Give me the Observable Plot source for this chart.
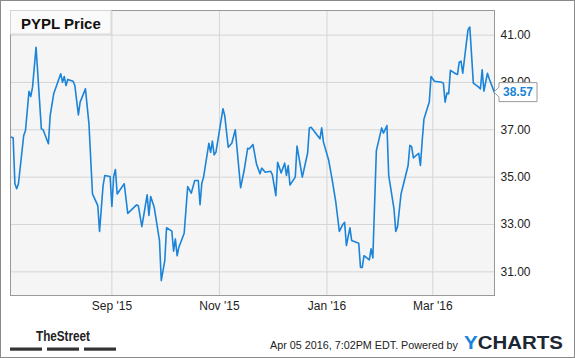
<!DOCTYPE html>
<html>
<head>
<meta charset="utf-8">
<script src="https://cdn.jsdelivr.net/npm/d3@7"></script>
<script src="https://cdn.jsdelivr.net/npm/@observablehq/plot@0.6"></script>
<style>
  html, body { margin: 0; padding: 0; background: #fff; }
  #chart { position: relative; width: 575px; height: 358px; }
  svg { display: block; }
</style>
</head>
<body>
<div id="chart"></div>
<script>
// ---- data ----
const title = "PYPL Price";
const dates = [
  "2015-07-06","2015-07-07","2015-07-08","2015-07-09","2015-07-10","2015-07-13","2015-07-14","2015-07-16","2015-07-17","2015-07-18",
  "2015-07-20","2015-07-23","2015-07-24","2015-07-27","2015-07-28","2015-07-30","2015-08-03","2015-08-04","2015-08-05","2015-08-06",
  "2015-08-07","2015-08-10","2015-08-11","2015-08-13","2015-08-14","2015-08-17","2015-08-19","2015-08-21","2015-08-24","2015-08-25",
  "2015-08-27","2015-08-28","2015-08-31","2015-09-01","2015-09-02","2015-09-03","2015-09-04","2015-09-08","2015-09-10","2015-09-15",
  "2015-09-16","2015-09-18","2015-09-21","2015-09-22","2015-09-23","2015-09-25","2015-09-28","2015-09-29","2015-10-01","2015-10-02",
  "2015-10-05","2015-10-06","2015-10-07","2015-10-08","2015-10-09","2015-10-12","2015-10-14","2015-10-16","2015-10-18","2015-10-20",
  "2015-10-21","2015-10-22","2015-10-23","2015-10-26","2015-10-27","2015-10-28","2015-10-29","2015-10-30","2015-11-01","2015-11-03",
  "2015-11-04","2015-11-06","2015-11-08","2015-11-10","2015-11-13","2015-11-15","2015-11-17","2015-11-18","2015-11-20","2015-11-22",
  "2015-11-24","2015-11-25","2015-11-27","2015-11-30","2015-12-01","2015-12-03","2015-12-04","2015-12-06","2015-12-08","2015-12-09",
  "2015-12-10","2015-12-11","2015-12-14","2015-12-15","2015-12-18","2015-12-21","2015-12-22","2015-12-23","2015-12-28","2015-12-29",
  "2015-12-30","2016-01-02","2016-01-04","2016-01-06","2016-01-08","2016-01-10","2016-01-11","2016-01-12","2016-01-14","2016-01-15",
  "2016-01-19","2016-01-20","2016-01-21","2016-01-22","2016-01-25","2016-01-26","2016-01-27","2016-01-29","2016-02-01","2016-02-02",
  "2016-02-04","2016-02-05","2016-02-08","2016-02-09","2016-02-10","2016-02-12","2016-02-16","2016-02-17","2016-02-18","2016-02-19",
  "2016-02-22","2016-02-23","2016-02-24","2016-02-25","2016-02-28","2016-02-29","2016-03-02","2016-03-06","2016-03-07","2016-03-08",
  "2016-03-09","2016-03-10","2016-03-11","2016-03-14","2016-03-15","2016-03-16","2016-03-17","2016-03-18","2016-03-20","2016-03-21",
  "2016-03-22","2016-03-24","2016-03-27","2016-03-28","2016-03-29","2016-03-30","2016-04-01","2016-04-02","2016-04-05"
];
const prices = [
  36.69,36.66,34.72,34.51,34.72,36.76,36.97,38.63,38.41,38.80,
  40.49,37.04,37.00,36.41,37.60,38.52,39.37,39.01,39.25,38.87,
  39.13,39.05,38.87,37.63,38.17,38.73,37.25,34.29,33.80,32.71,
  34.64,35.07,35.03,33.76,35.03,35.32,34.29,34.72,33.47,33.83,
  33.79,32.91,34.25,33.38,34.18,33.73,32.32,30.63,31.47,32.86,
  32.72,31.87,32.39,31.68,32.04,32.63,34.60,34.32,34.86,34.86,
  33.84,34.74,35.00,36.43,36.05,36.52,35.94,36.05,36.97,37.89,
  37.60,36.26,36.43,37.00,34.55,35.28,36.22,36.20,36.38,35.56,
  35.14,35.38,35.21,35.25,35.11,34.22,35.63,35.18,35.59,35.07,
  35.49,34.67,35.00,36.31,35.00,36.01,37.08,37.11,36.62,37.08,
  36.48,35.70,34.86,33.94,32.71,33.00,33.09,32.11,32.86,32.32,
  32.21,31.19,31.19,31.68,31.50,31.97,31.59,36.12,37.08,36.86,
  37.18,35.07,33.66,32.71,32.91,34.29,35.49,36.34,36.29,35.81,
  36.01,35.49,36.55,37.46,38.17,39.25,39.05,39.01,38.97,38.17,
  38.55,38.52,39.51,39.37,39.34,39.86,39.90,39.39,40.64,41.23,
  41.34,38.97,38.80,38.73,39.54,38.63,39.39,39.16,38.57
];
const yTicks = [31, 33, 35, 37, 39, 41];
const xTickDates = ["2015-09-01","2015-11-01","2016-01-01","2016-03-01"];
const xTickLabels = ["Sep '15","Nov '15","Jan '16","Mar '16"];
const lastLabel = "38.57";
const timestamp = "Apr 05 2016, 7:02PM EDT. Powered by";

// ---- build ----
const data = dates.map((d, i) => ({date: new Date(d), price: prices[i]}));
const xTicks = xTickDates.map(d => new Date(d));
const FONT = "'Liberation Sans', Arial, Helvetica, sans-serif";
const BLUE = "#1b84d9";

const chart = Plot.plot({
  width: 575,
  height: 358,
  marginLeft: 10,
  marginRight: 81,
  marginTop: 10,
  marginBottom: 63,
  style: {background: "transparent", fontFamily: FONT, fontSize: "12px", color: "#222", overflow: "visible"},
  x: {
    type: "utc",
    domain: [new Date("2015-07-05T12:00Z"), new Date("2016-04-05")],
    ticks: xTicks,
    tickFormat: d => xTickLabels[xTicks.findIndex(t => +t === +d)],
    tickSize: 0,
    tickPadding: 6,
    label: null
  },
  y: {
    domain: [30, 42.04],
    ticks: yTicks,
    tickFormat: d => d.toFixed(2),
    tickSize: 0,
    tickPadding: 6,
    axis: "right",
    label: null
  },
  marks: [
    Plot.frame({fill: "#f5f5f5", stroke: null}),
    Plot.ruleX(xTicks, {stroke: "#d5d5d5", strokeWidth: 1}),
    Plot.ruleY(yTicks, {stroke: "#d5d5d5", strokeWidth: 1}),
    Plot.frame({stroke: "#999", fill: "none"}),
    Plot.line(data, {x: "date", y: "price", stroke: BLUE, strokeWidth: 1.6})
  ]
});

document.getElementById("chart").appendChild(chart);

const svg = d3.select(chart);
const xs = chart.scale("x"), ys = chart.scale("y");
const last = data[data.length - 1];
const lx = xs.apply(last.date), ly = ys.apply(last.price);
const g = svg.append("g").attr("text-anchor", "start");

// title box
g.append("rect").attr("x", 10.5).attr("y", 10.5).attr("width", 100.5).attr("height", 23.5)
  .attr("fill", "#fafafa").attr("stroke", "#d5d5d5");
g.append("text").attr("x", 21).attr("y", 28.5).attr("text-anchor", "start").text(title)
  .attr("font-family", FONT).attr("font-weight", "bold").attr("font-size", 15).attr("fill", "#111");

// last value callout
const h = 9.5;
g.append("path")
  .attr("d", `M${lx},${ly} L${lx+5},${ly-5} L${lx+5},${ly-h} L${lx+43},${ly-h} L${lx+43},${ly+h} L${lx+5},${ly+h} L${lx+5},${ly+5} Z`)
  .attr("fill", "#fff").attr("stroke", "#999");
g.append("text").attr("x", lx + 24).attr("y", ly).attr("dy", "0.36em").attr("text-anchor", "middle")
  .text(lastLabel).attr("font-family", FONT).attr("font-weight", "bold").attr("font-size", 12).attr("fill", BLUE);

// footer: TheStreet logo
g.append("text").attr("x", 36).attr("y", 341).attr("text-anchor", "start").text("TheStreet")
  .attr("font-family", FONT).attr("font-weight", "bold").attr("font-size", 15)
  .attr("textLength", 54).attr("lengthAdjust", "spacingAndGlyphs").attr("fill", "#222");
[10, 47, 84].forEach(x0 => g.append("rect").attr("x", x0).attr("y", 347.5).attr("width", 32).attr("height", 3.2).attr("fill", "#333"));

// footer: timestamp + YCHARTS
g.append("text").attr("x", 270).attr("y", 349).attr("text-anchor", "start").text(timestamp)
  .attr("font-family", FONT).attr("font-size", 11).attr("fill", "#222")
  .attr("textLength", 188).attr("lengthAdjust", "spacingAndGlyphs");
const yc = g.append("text").attr("x", 464).attr("y", 348.5).attr("text-anchor", "start")
  .attr("font-family", FONT).attr("font-weight", "bold").attr("font-size", 18.5)
  .attr("textLength", 99).attr("lengthAdjust", "spacingAndGlyphs");
yc.append("tspan").attr("fill", BLUE).text("Y");
yc.append("tspan").attr("fill", "#1d2633").text("CHARTS");

// outer border
g.append("rect").attr("x", 0.5).attr("y", 0.5).attr("width", 574).attr("height", 357)
  .attr("fill", "none").attr("stroke", "#8a8a8a");
</script>
</body>
</html>
